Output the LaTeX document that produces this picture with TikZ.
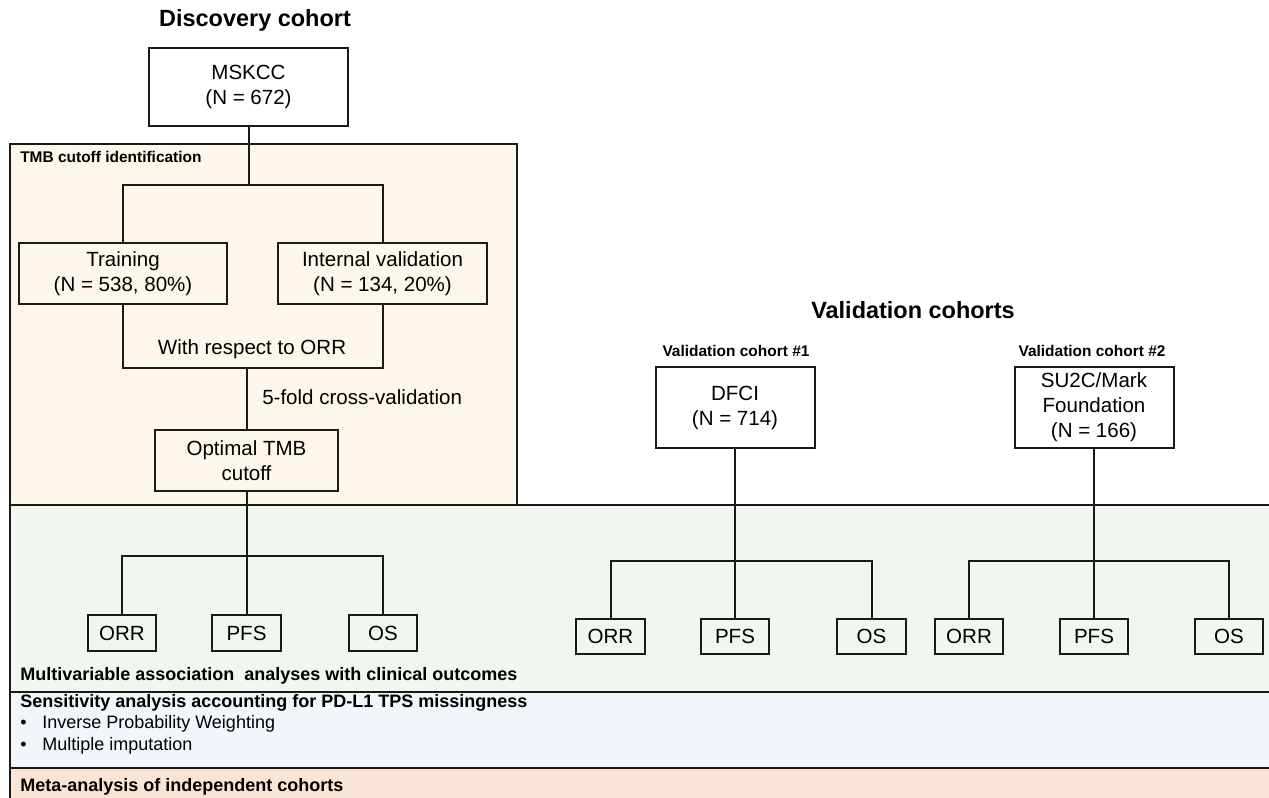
\documentclass[tikz,border=0pt]{standalone}
\usepackage{fontspec}
\setmainfont{Liberation Sans}
\definecolor{creamfill}{HTML}{FDF6EA}
\definecolor{greenfill}{HTML}{F1F7EE}
\definecolor{bluefill}{HTML}{F0F6FA}
\definecolor{orangefill}{HTML}{FAE4D6}
\definecolor{ink}{HTML}{1A1A1A}
\newcommand{\bxfont}{\fontsize{15.4}{18.75}\selectfont}
\newcommand{\ttlfont}{\fontsize{17.6}{21}\selectfont\bfseries}
\newcommand{\lblfont}{\fontsize{11.6}{14}\selectfont\bfseries}
\newcommand{\bandfont}{\fontsize{13.5}{16}\selectfont}
\begin{document}
\begin{tikzpicture}[x=0.75pt,y=-0.75pt,
  ln/.style={draw=ink, line width=1.5pt},
  box/.style args={#1/#2}{draw=ink, line width=1.5pt, minimum width=#1*0.75pt, minimum height=#2*0.75pt, inner sep=0pt, align=center, font=\bxfont},
  txt/.style={inner sep=0pt, align=center, font=\bxfont},
  ttl/.style={inner sep=0pt, font=\ttlfont},
  lbl/.style={inner sep=0pt, font=\lblfont},
  bandhead/.style={inner sep=0pt, anchor=west, font=\bandfont\bfseries},
  banditem/.style={inner sep=0pt, anchor=west, font=\bandfont}
]
\useasboundingbox (0,0) rectangle (1269,798);
% background bands
\fill[greenfill] (10,505) rectangle (1269,692);
\fill[bluefill] (10,692) rectangle (1269,768);
\fill[orangefill] (10,768) rectangle (1269,798);
\fill[creamfill] (10,144) rectangle (517,505);
\draw[ln] (10,798) -- (10,144) -- (517,144) -- (517,505);
\draw[ln] (10,505) -- (1269,505);
\draw[ln] (10,692) -- (1269,692);
\draw[ln] (10,768) -- (1269,768);

% titles
\node[ttl] (tdisc) at (255,20) {Discovery cohort};
\node[ttl] (tval) at (913,310) {Validation cohorts};
\node[lbl, anchor=west] (ltmb) at (20,157) {TMB cutoff identification};
\node[lbl] (lv1) at (736,351) {Validation cohort \#1};
\node[lbl] (lv2) at (1092,351) {Validation cohort \#2};

% discovery
\node[box=199/78] (mskcc) at (248.5,87) {MSKCC\\(N = 672)};
\node[box=208/61] (train) at (123,273.5) {Training\\(N = 538, 80\%)};
\node[box=209/61] (intv) at (382.5,273.5) {Internal validation\\(N = 134, 20\%)};
\node[box=183/61] (opt) at (246.5,460.5) {Optimal TMB\\cutoff};
\node[txt] (wrt) at (252,349) {With respect to ORR};
\node[txt, anchor=west] (cv) at (262,397) {5-fold cross-validation};
\node[box=68/36] (orrA) at (122,633) {ORR};
\node[box=69/36] (pfsA) at (246.5,633) {PFS};
\node[box=68/36] (osA) at (383,633) {OS};

\coordinate (j1) at (248.5,185);
\coordinate (j2) at (246.5,368);
\coordinate (j3) at (246.5,556);
\draw[ln] (mskcc.south) -- (j1);
\draw[ln] (train.north) |- (j1) -| (intv.north);
\draw[ln] (train.south) |- (j2) -| (intv.south);
\draw[ln] (j2) -- (opt.north);
\draw[ln] (opt.south) -- (j3);
\draw[ln] (orrA.north) |- (j3) -| (osA.north);
\draw[ln] (j3) -- (pfsA.north);

% validation cohort 1
\node[box=159/81] (dfci) at (735,407.5) {DFCI\\(N = 714)};
\node[box=69/35] (orrB) at (610.5,636.5) {ORR};
\node[box=68/35] (pfsB) at (735,636.5) {PFS};
\node[box=69/35] (osB) at (871.5,636.5) {OS};
\coordinate (j4) at (735,561);
\draw[ln] (dfci.south) -- (j4);
\draw[ln] (orrB.north) |- (j4) -| (osB.north);
\draw[ln] (j4) -- (pfsB.north);

% validation cohort 2
\node[box=159/81] (su2c) at (1094,407.5) {SU2C/Mark\\Foundation\\(N = 166)};
\node[box=68/35] (orrC) at (969,636.5) {ORR};
\node[box=68/35] (pfsC) at (1094,636.5) {PFS};
\node[box=68/35] (osC) at (1229,636.5) {OS};
\coordinate (j5) at (1094,561);
\draw[ln] (su2c.south) -- (j5);
\draw[ln] (orrC.north) |- (j5) -| (osC.north);
\draw[ln] (j5) -- (pfsC.north);

% bands text
\node[bandhead] (bmv) at (20,676) {Multivariable association\ \ analyses with clinical outcomes};
\node[bandhead] (bsens) at (20,703) {Sensitivity analysis accounting for PD-L1 TPS missingness};
\node[banditem] (bul1) at (20,724) {•};
\node[banditem] (ipw) at (42,724) {Inverse Probability Weighting};
\node[banditem] (bul2) at (20,746) {•};
\node[banditem] (mi) at (42,746) {Multiple imputation};
\node[bandhead] (bmeta) at (20,787) {Meta-analysis of independent cohorts};
\end{tikzpicture}
\end{document}
